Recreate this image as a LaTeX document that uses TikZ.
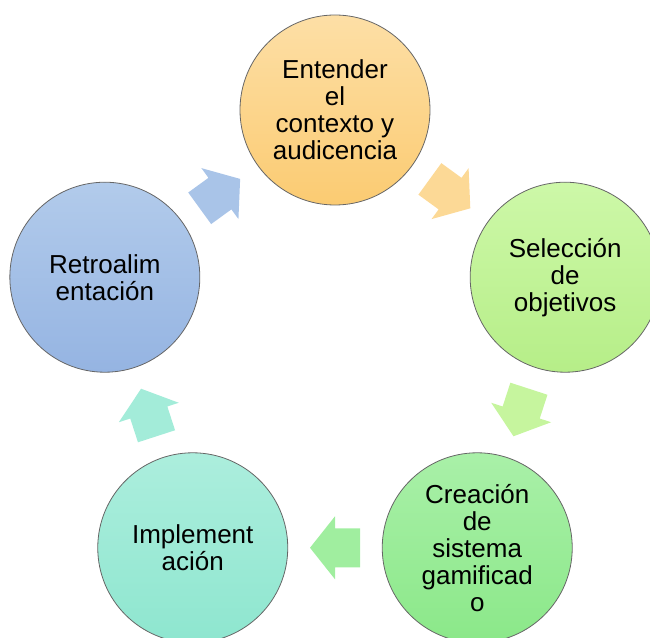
\documentclass[tikz,border=0pt]{standalone}
\usepackage{fontspec}
\setmainfont{Liberation Sans}
\usetikzlibrary{positioning, calc}

\definecolor{naranjaA}{HTML}{FDDFA6}
\definecolor{naranjaB}{HTML}{FBCB72}
\definecolor{limaA}{HTML}{CDF8A8}
\definecolor{limaB}{HTML}{B6EE88}
\definecolor{verdeA}{HTML}{A9F0A8}
\definecolor{verdeB}{HTML}{8BE889}
\definecolor{aguaA}{HTML}{ACEEDD}
\definecolor{aguaB}{HTML}{8EE6CF}
\definecolor{azulA}{HTML}{B2CBEB}
\definecolor{azulB}{HTML}{95B4E2}

\tikzset{
  fase/.style={circle, draw=black!60, line width=0.8pt, minimum size=190pt,
    inner sep=0pt, align=center, font=\fontsize{26}{27}\selectfont},
  flecha/.pic={
    \path[pic actions] (-25,-19.5) -- (0,-19.5) -- (0,-31.5) -- (25,0)
      -- (0,31.5) -- (0,19.5) -- (-25,19.5) -- cycle;
  },
}

\begin{document}
\begin{tikzpicture}[x=1pt, y=1pt]
\clip (-335,-285) rectangle (315,352);

% fases del ciclo
\node[fase, top color=naranjaA, bottom color=naranjaB] (entender) at (90:242) {Entender\\el\\contexto y\\audicencia};
\node[fase, top color=limaA, bottom color=limaB] (seleccion) at (18:242) {Selección\\de\\objetivos};
\node[fase, top color=verdeA, bottom color=verdeB] (creacion) at (-54:242) {Creación\\de\\sistema\\gamificad\\o};
\node[fase, top color=aguaA, bottom color=aguaB] (implementacion) at (-126:242) {Implement\\ación};
\node[fase, top color=azulA, bottom color=azulB] (retro) at (162:242) {Retroalim\\entación};

% flechas entre fases
\coordinate (f1) at ($(entender)!0.5!(seleccion)$);
\coordinate (f2) at ($(seleccion)!0.5!(creacion)$);
\coordinate (f3) at ($(creacion)!0.5!(implementacion)$);
\coordinate (f4) at ($(implementacion)!0.5!(retro)$);
\coordinate (f5) at ($(retro)!0.5!(entender)$);
\pic[fill=naranjaA!70!naranjaB, rotate=-36] at (f1) {flecha};
\pic[fill=limaA!70!limaB, rotate=-108] at (f2) {flecha};
\pic[fill=verdeA!70!verdeB, rotate=180] at (f3) {flecha};
\pic[fill=aguaA!70!aguaB, rotate=108] at (f4) {flecha};
\pic[fill=azulA!70!azulB, rotate=36] at (f5) {flecha};
\end{tikzpicture}
\end{document}
